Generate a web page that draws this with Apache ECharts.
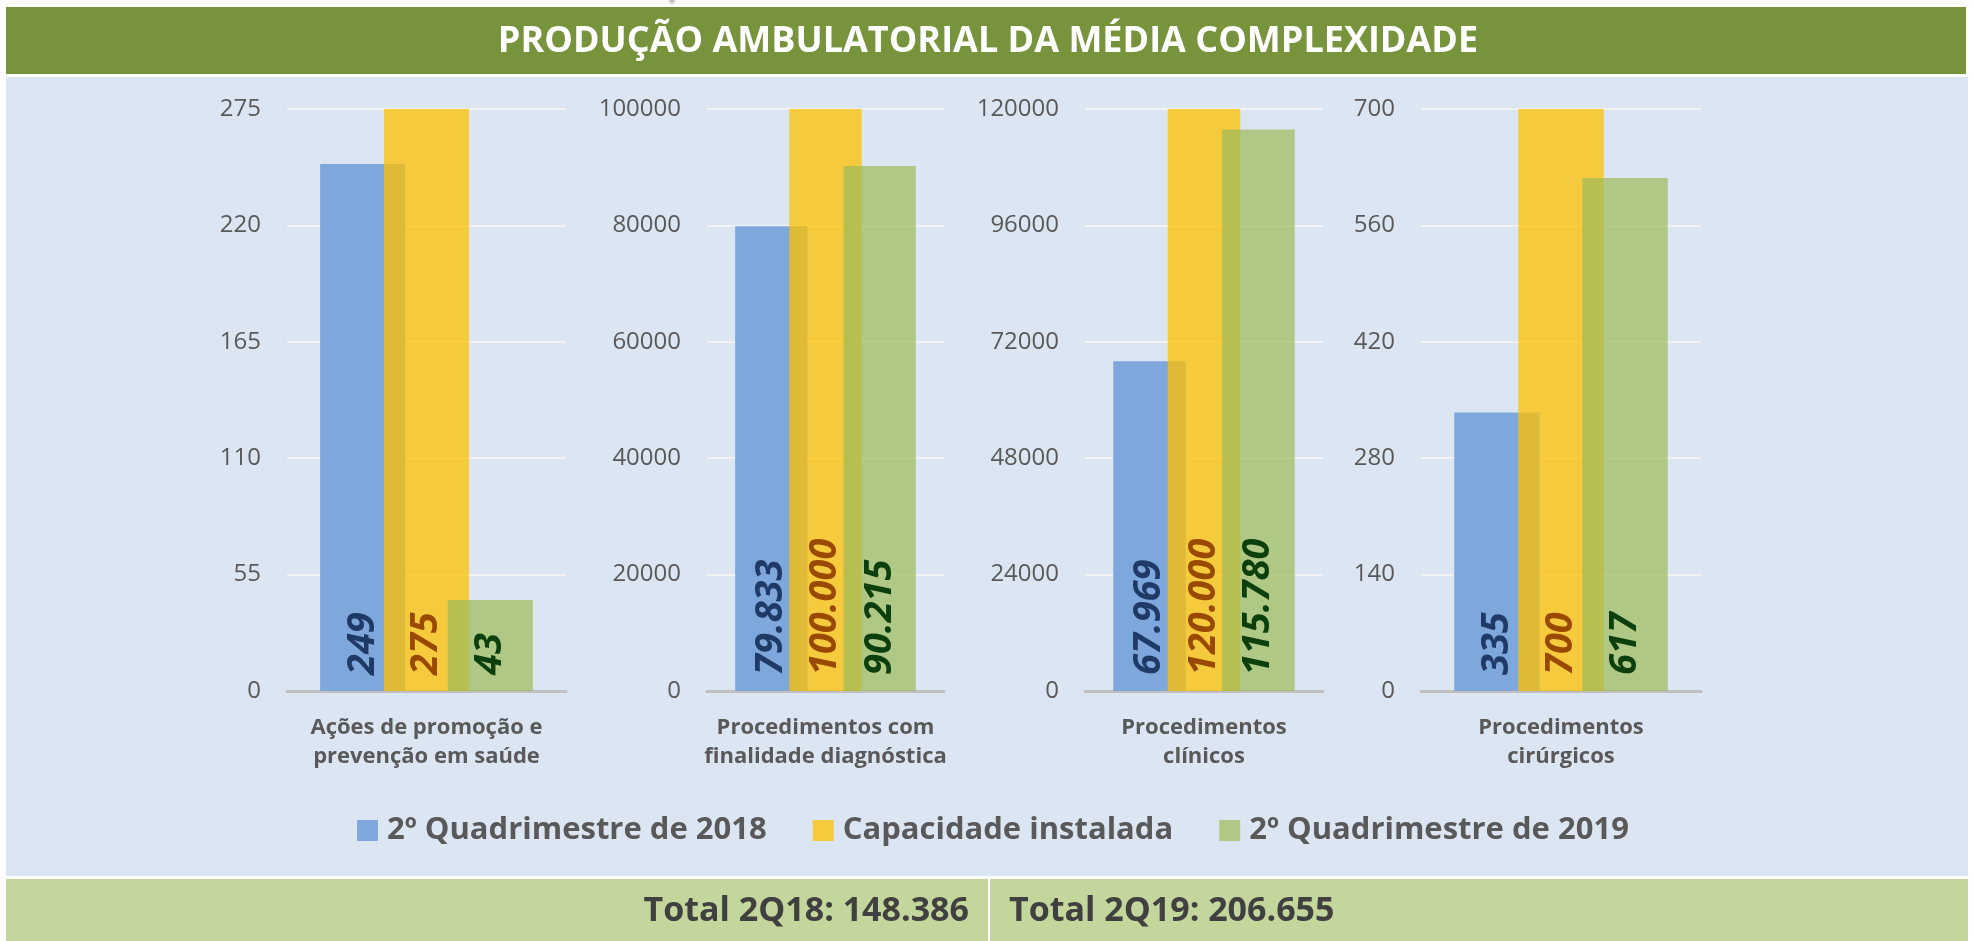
<!DOCTYPE html>
<html>
<head>
<meta charset="utf-8">
<script src="https://cdn.jsdelivr.net/npm/echarts@6/dist/echarts.min.js"></script>
<style>
  html, body { margin: 0; padding: 0; background: #ffffff; }
  #chart { width: 1973px; height: 941px; }
</style>
</head>
<body>
<div id="chart"></div>
<script>
// Categories (one per panel) and series values
const categories = [
  'Ações de promoção e\nprevenção em saúde',
  'Procedimentos com\nfinalidade diagnóstica',
  'Procedimentos\nclínicos',
  'Procedimentos\ncirúrgicos'
];
const q2018 = [249, 79833, 67969, 335];
const capacidade = [275, 100000, 120000, 700];
const q2019 = [43, 90215, 115780, 617];

// Axis scale per panel
const axisMax = [275, 100000, 120000, 700];
const axisInterval = [55, 20000, 24000, 140];

const seriesNames = ['2º Quadrimestre de 2018', 'Capacidade instalada', '2º Quadrimestre de 2019'];
const totals = ['Total 2Q18: 148.386', 'Total 2Q19: 206.655'];
const titleText = 'PRODUÇÃO AMBULATORIAL DA MÉDIA COMPLEXIDADE';

const FONT = '"Open Sans", "DejaVu Sans", sans-serif';

// Panel geometry
const panels = [
  { left: 287, width: 279 },
  { left: 707, width: 237 },
  { left: 1085, width: 238 },
  { left: 1421, width: 280 }
];

const barColors = ['#7EA8DC', 'rgba(255,192,0,0.75)', 'rgba(155,187,89,0.7)'];
const labelColors = ['#1F3A66', '#9A4A00', '#0B3F0B'];
const seriesData = [q2018, capacidade, q2019];

// Brazilian thousands separator
function fmt(v) {
  return String(v).replace(/\B(?=(\d{3})+(?!\d))/g, '.');
}

const grids = [], xAxes = [], yAxes = [], series = [];
panels.forEach((p, i) => {
  grids.push({ left: p.left, width: p.width, top: 109, bottom: 250, containLabel: false });
  xAxes.push({
    type: 'category', gridIndex: i, data: [categories[i]],
    axisLine: { show: true, lineStyle: { color: '#BFBFBF', width: 3 } },
    axisTick: { show: false },
    axisLabel: {
      fontFamily: FONT, fontSize: 22, fontWeight: 'bold', color: '#595959',
      lineHeight: 29, margin: 22, interval: 0
    }
  });
  yAxes.push({
    type: 'value', gridIndex: i, min: 0, max: axisMax[i], interval: axisInterval[i],
    axisLine: { show: false }, axisTick: { show: false },
    axisLabel: { fontFamily: FONT, fontSize: 24, color: '#595959', margin: 26, formatter: (v) => String(v) },
    splitLine: { lineStyle: { color: '#F2F2F2', width: 2 } }
  });
  seriesData.forEach((arr, s) => {
    series.push({
      type: 'bar', name: seriesNames[s], xAxisIndex: i, yAxisIndex: i,
      data: [arr[i]], barWidth: '30.5%', barGap: '-25%',
      itemStyle: { color: barColors[s] },
      label: {
        show: true, position: 'insideBottom', rotate: 90, align: 'left', verticalAlign: 'middle',
        distance: 16, formatter: (d) => fmt(d.value),
        fontFamily: FONT, fontSize: 38, fontWeight: 'bold', fontStyle: 'italic', color: labelColors[s]
      }
    });
  });
});

const chart = echarts.init(document.getElementById('chart'), null, { renderer: 'canvas' });
chart.setOption({
  animation: false,
  backgroundColor: '#ffffff',
  grid: grids,
  xAxis: xAxes,
  yAxis: yAxes,
  legend: {
    data: seriesNames, left: 352, top: 810,
    itemWidth: 21, itemHeight: 21, itemGap: 46, icon: 'rect',
    textStyle: { fontFamily: FONT, fontSize: 31, fontWeight: 'bold', color: '#595959', padding: [0, 0, 0, 4] }
  },
  graphic: [
    // header band, chart panel and footer band
    { type: 'rect', z: -10, shape: { x: 6, y: 7, width: 1960, height: 67 }, style: { fill: '#77933C' } },
    { type: 'rect', z: -10, shape: { x: 6, y: 77, width: 1962, height: 799 }, style: { fill: '#DCE6F2' } },
    { type: 'rect', z: -10, shape: { x: 6, y: 879, width: 1962, height: 62 }, style: { fill: '#C3D69B' } },
    { type: 'rect', z: -9, shape: { x: 988, y: 879, width: 2, height: 62 }, style: { fill: '#ffffff' } },
    // soft grey shadow above the header
    { type: 'ellipse', z: -11, shape: { cx: 672, cy: 1, rx: 45, ry: 5 },
      style: { fill: new echarts.graphic.RadialGradient(0.5, 0.5, 0.5, [
        { offset: 0, color: 'rgba(140,140,140,0.8)' }, { offset: 1, color: 'rgba(200,200,200,0)' }]) } },
    { type: 'text', x: 988, y: 42, style: { text: titleText, fontFamily: FONT, fontSize: 36, fontWeight: 'bold',
      fill: '#ffffff', align: 'center', verticalAlign: 'middle' } },
    { type: 'text', x: 969, y: 911, style: { text: totals[0], fontFamily: FONT, fontSize: 34, fontWeight: 'bold',
      fill: '#404040', align: 'right', verticalAlign: 'middle' } },
    { type: 'text', x: 1009, y: 911, style: { text: totals[1], fontFamily: FONT, fontSize: 34, fontWeight: 'bold',
      fill: '#404040', align: 'left', verticalAlign: 'middle' } }
  ],
  series: series
});
</script>
</body>
</html>
